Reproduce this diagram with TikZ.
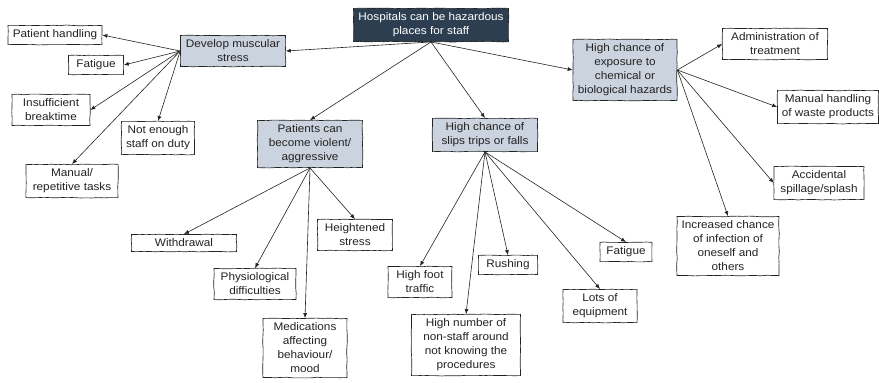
\documentclass[tikz,border=0pt]{standalone}
\usepackage{fontspec}
\setmainfont[FakeStretch=1.07]{Liberation Sans}
\usepackage{tikz}
\usetikzlibrary{positioning, arrows.meta, decorations.pathmorphing}
\definecolor{rootblue}{RGB}{44,62,80}
\definecolor{catblue}{RGB}{203,211,222}
\definecolor{inkgray}{RGB}{35,35,35}

\begin{document}
\begin{tikzpicture}[x=1pt,y=-1pt,
basenode/.style={rectangle,
  draw=inkgray,
  line width=0.65pt,
  align=center,
  inner xsep=3pt,
  inner ysep=4.5pt,
  text=inkgray,
  font=\fontsize{11}{14}\selectfont,
  decoration={random steps, segment length=6pt, amplitude=0.35pt},
  decorate
},
rootnode/.style={basenode, fill=rootblue, text=white},
catnode/.style={basenode, fill=catblue},
leafnode/.style={basenode, fill=white},
link/.style={->, line width=0.6pt, inkgray},
>={Latex[length=5pt,width=4pt]}
]
\useasboundingbox (0,0) rectangle (879,383);

% root and the four groups
\node[rootnode, minimum width=155pt] (root) at (431,25)
    {Hospitals can be hazardous\\places for staff};
\node[catnode, minimum width=105pt] (muscle) at (233,51)
    {Develop muscular\\stress};
\node[catnode, minimum width=105pt] (violent) at (310,144)
    {Patients can\\become violent/\\aggressive};
\node[catnode, minimum width=105pt] (slips) at (485,135)
    {High chance of\\slips trips or falls};
\node[catnode, minimum width=104pt] (exposure) at (625,70)
    {High chance of\\exposure to\\chemical or\\biological hazards};

% muscular stress
\node[leafnode, minimum width=94pt] (handling) at (55,35)
    {Patient handling};
\node[leafnode, minimum width=55pt] (fatigueL) at (96,65)
    {Fatigue};
\node[leafnode, minimum width=78pt] (breaktime) at (51,110)
    {Insufficient\\breaktime};
\node[leafnode, minimum width=73pt] (staff) at (158,138)
    {Not enough\\staff on duty};
\node[leafnode, minimum width=92pt] (repetitive) at (72,181)
    {Manual/\\repetitive tasks};

% violent / aggressive
\node[leafnode, minimum width=105pt] (withdrawal) at (184,243)
    {Withdrawal};
\node[leafnode, minimum width=82pt] (physio) at (255,284)
    {Physiological\\difficulties};
\node[leafnode, minimum width=75pt] (stress) at (355,235)
    {Heightened\\stress};
\node[leafnode, minimum width=84pt] (meds) at (305,348)
    {Medications\\affecting\\behaviour/\\mood};

% slips trips or falls
\node[leafnode, minimum width=64pt] (foot) at (420,282)
    {High foot\\traffic};
\node[leafnode, minimum width=109pt] (nonstaff) at (466,345)
    {High number of\\non-staff around\\not knowing the\\procedures};
\node[leafnode, minimum width=59pt] (rushing) at (508,265)
    {Rushing};
\node[leafnode, minimum width=74pt] (equipment) at (600,306)
    {Lots of\\equipment};
\node[leafnode, minimum width=52pt] (fatigueM) at (626,252)
    {Fatigue};

% exposure
\node[leafnode, minimum width=105pt] (admin) at (775,44)
    {Administration of\\treatment};
\node[leafnode, minimum width=101pt] (waste) at (828,107)
    {Manual handling\\of waste products};
\node[leafnode, minimum width=90pt] (spill) at (819,183)
    {Accidental\\spillage/splash};
\node[leafnode, minimum width=102pt] (infection) at (728,246)
    {Increased chance\\of infection of\\oneself and\\others};

\draw[link] (root.south) -- (muscle.east);
\draw[link] (root.south) -- (violent.north);
\draw[link] (root.south) -- (slips.north);
\draw[link] (root.south) -- (exposure.west);

\draw[link] (muscle.west) -- (handling.east);
\draw[link] (muscle.west) -- (fatigueL.east);
\draw[link] (muscle.west) -- (breaktime.east);
\draw[link] (muscle.west) -- (staff.north);
\draw[link] (muscle.west) -- (repetitive.north);

\draw[link] (violent.south) -- (withdrawal.north);
\draw[link] (violent.south) -- (physio.north);
\draw[link] (violent.south) -- (meds.north);
\draw[link] (violent.south) -- (stress.north);

\draw[link] (slips.south) -- (foot.north);
\draw[link] (slips.south) -- (nonstaff.north);
\draw[link] (slips.south) -- (rushing.north);
\draw[link] (slips.south) -- (equipment.north);
\draw[link] (slips.south) -- (fatigueM.north);

\draw[link] (exposure.east) -- (admin.west);
\draw[link] (exposure.east) -- (waste.west);
\draw[link] (exposure.east) -- (spill.west);
\draw[link] (exposure.east) -- (infection.north);
\end{tikzpicture}
\end{document}
